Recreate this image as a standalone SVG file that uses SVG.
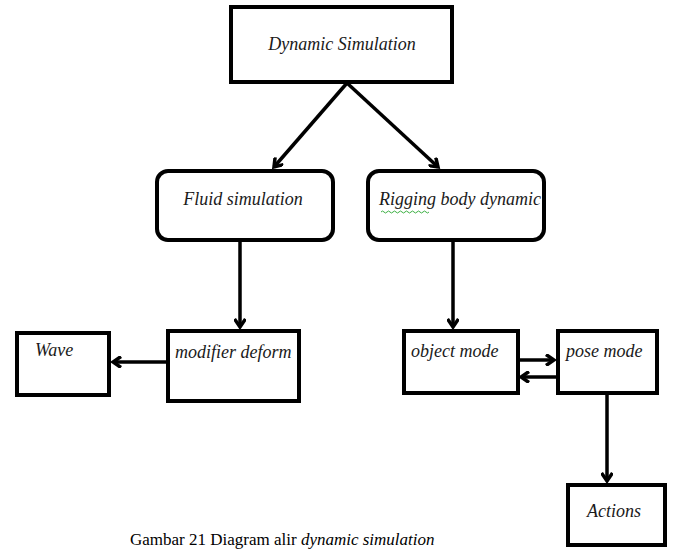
<svg xmlns="http://www.w3.org/2000/svg" width="675" height="550" viewBox="0 0 675 550">
<defs>
<style>
.box{fill:#fff;stroke:#000;stroke-width:4}
.t{font-family:"Liberation Serif",serif;font-style:italic;font-size:18px;fill:#1a1a1a}
.c{stroke:#000;stroke-width:3.5;fill:none}
.cap{font-family:"Liberation Serif",serif;font-size:17px;fill:#000}
</style>
<marker id="ah" markerWidth="12" markerHeight="12" refX="9" refY="6" orient="auto" markerUnits="userSpaceOnUse">
<polyline points="1,0.5 9,6 1,11.5" fill="none" stroke="#000" stroke-width="3.5" stroke-linejoin="miter"/>
</marker>
</defs>
<rect width="675" height="550" fill="#fff"/>
<g id="connectors">
<line class="c" x1="347" y1="83" x2="274" y2="167" marker-end="url(#ah)"/>
<line class="c" x1="347" y1="83" x2="438" y2="167" marker-end="url(#ah)"/>
<line class="c" x1="240" y1="241" x2="240" y2="327" marker-end="url(#ah)"/>
<line class="c" x1="453" y1="241" x2="453" y2="327" marker-end="url(#ah)"/>
<line class="c" x1="166" y1="362" x2="113" y2="362" marker-end="url(#ah)"/>
<line class="c" x1="519" y1="360" x2="554" y2="360" marker-end="url(#ah)"/>
<line class="c" x1="556" y1="377" x2="521" y2="377" marker-end="url(#ah)"/>
<line class="c" x1="607" y1="394" x2="607" y2="481" marker-end="url(#ah)"/>
</g>
<g id="dynamic-simulation">
<rect class="box" x="231" y="7" width="221" height="75"/>
<text class="t" x="342" y="50" text-anchor="middle">Dynamic Simulation</text>
</g>
<g id="fluid-simulation">
<rect class="box" x="157" y="171" width="176" height="69" rx="11"/>
<text class="t" x="243" y="205" text-anchor="middle">Fluid simulation</text>
</g>
<g id="rigging-body-dynamic">
<rect class="box" x="368" y="171" width="176" height="69" rx="11"/>
<text class="t" x="460" y="205" text-anchor="middle">Rigging body dynamic</text>
<path d="M381,212 q1.5,-2 3,0 t3,0 t3,0 t3,0 t3,0 t3,0 t3,0 t3,0 t3,0 t3,0 t3,0 t3,0 t3,0 t3,0 t3,0 t3,0" fill="none" stroke="#3cb043" stroke-width="1"/>
</g>
<g id="wave">
<rect class="box" x="17" y="333" width="92" height="62"/>
<text class="t" x="35" y="356">Wave</text>
</g>
<g id="modifier-deform">
<rect class="box" x="168" y="331" width="131" height="70"/>
<text class="t" x="175" y="358">modifier deform</text>
</g>
<g id="object-mode">
<rect class="box" x="404" y="331" width="114" height="62"/>
<text class="t" x="411" y="357">object mode</text>
</g>
<g id="pose-mode">
<rect class="box" x="558" y="331" width="99" height="62"/>
<text class="t" x="566" y="357">pose mode</text>
</g>
<g id="actions">
<rect class="box" x="568" y="485" width="97" height="60"/>
<text class="t" x="614" y="517" text-anchor="middle">Actions</text>
</g>
<text class="cap" x="130" y="545">Gambar 21 Diagram alir <tspan font-style="italic">dynamic simulation</tspan></text>
</svg>
